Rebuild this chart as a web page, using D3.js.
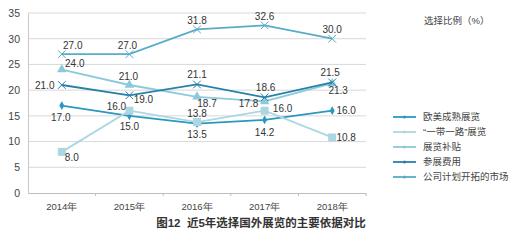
<!DOCTYPE html>
<html>
<head>
<meta charset="utf-8">
<script src="https://cdn.jsdelivr.net/npm/d3@7"></script>
<style>
  body { margin: 0; background: #fff; }
  svg { font-family: "Liberation Sans", "Noto Sans CJK SC", sans-serif; }
</style>
</head>
<body>
<div id="chart"></div>
<script>
// data
const years = ['2014年', '2015年', '2016年', '2017年', '2018年'];
const yTicks = [0, 5, 10, 15, 20, 25, 30, 35];
const seriesNames = ['欧美成熟展览', '“一带一路”展览', '展览补贴', '参展费用', '公司计划开拓的市场'];
const euroValues = [17.0, 15.0, 13.5, 14.2, 16.0];
const beltValues = [8.0, 16.0, 13.8, 16.0, 10.8];
const subsidyValues = [24.0, 21.0, 18.7, 17.8, 21.3];
const feeValues = [21.0, 19.0, 21.1, 18.6, 21.5];
const marketValues = [27.0, 27.0, 31.8, 32.6, 30.0];

// label offsets per point [dx, dy]
const series = [
  { name: seriesNames[0], values: euroValues, color: '#2b98bf', marker: 'diamond',
    offs: [[-1, 12], [0, 11], [0, 11], [0, 13], [14, 0]] },
  { name: seriesNames[1], values: beltValues, color: '#add6e3', marker: 'square',
    offs: [[10, 6], [-13, -4], [0, -9], [18, -2], [14, 0]] },
  { name: seriesNames[2], values: subsidyValues, color: '#8ccadb', marker: 'triangle',
    offs: [[13, -6], [-1, -9], [10, 7], [-16, 2], [6, 7]] },
  { name: seriesNames[3], values: feeValues, color: '#2780aa', marker: 'cross',
    offs: [[-17, 0], [14, 4], [0, -10], [1, -10], [-2, -10]] },
  { name: seriesNames[4], values: marketValues, color: '#58acc7', marker: 'cross',
    offs: [[11, -9], [-2, -9], [0, -9], [0, -9], [0, -9]] }
];

const width = 514, height = 240;
const svg = d3.select('#chart').append('svg')
  .attr('width', width).attr('height', height);

const x = d3.scaleBand().domain(years).range([28, 366]);
const y = d3.scaleLinear().domain([0, 35]).range([193, 13]);

// gridlines
svg.append('g').selectAll('line')
  .data(yTicks.filter(d => d > 0))
  .enter().append('line')
  .attr('x1', 28).attr('x2', 366)
  .attr('y1', d => y(d)).attr('y2', d => y(d))
  .attr('stroke', '#d9d9d9').attr('stroke-width', 1);

// y axis
const yAxis = svg.append('g')
  .attr('transform', 'translate(28,0)')
  .call(d3.axisLeft(y).tickValues(yTicks).tickSize(0).tickPadding(8));
yAxis.select('.domain').attr('stroke', '#c8c8c8');
yAxis.selectAll('text').attr('fill', '#444').style('font-size', '10.5px');

// x axis
const xAxis = svg.append('g')
  .attr('transform', 'translate(0,193)')
  .call(d3.axisBottom(x).tickSize(0).tickPadding(10));
xAxis.select('.domain').attr('stroke', '#bdbdbd');
xAxis.selectAll('text').attr('fill', '#444').style('font-size', '9.5px');
xAxis.selectAll('.bound')
  .data(years.slice(1).concat(['end']))
  .enter().append('line')
  .attr('x1', (d, i) => x(years[0]) + x.bandwidth() * (i + 1))
  .attr('x2', (d, i) => x(years[0]) + x.bandwidth() * (i + 1))
  .attr('y1', 0).attr('y2', 3)
  .attr('stroke', '#bdbdbd');

const cx = d => x(d) + x.bandwidth() / 2;

function drawMarker(g, type, color, px, py) {
  if (type === 'diamond') {
    g.append('path').attr('d', d3.symbol(d3.symbolDiamond, 22)())
      .attr('transform', `translate(${px},${py})`).attr('fill', color);
  } else if (type === 'square') {
    g.append('rect').attr('x', px - 4).attr('y', py - 4)
      .attr('width', 8).attr('height', 8).attr('fill', color);
  } else if (type === 'triangle') {
    g.append('path').attr('d', d3.symbol(d3.symbolTriangle, 40)())
      .attr('transform', `translate(${px},${py})`).attr('fill', color);
  } else {
    g.append('path').attr('d', d3.symbol(d3.symbolX, 40)())
      .attr('transform', `translate(${px},${py})`)
      .attr('fill', 'none').attr('stroke', color).attr('stroke-width', 1);
  }
}

const line = d3.line().x((d, i) => cx(years[i])).y(d => y(d));

series.forEach(s => {
  const g = svg.append('g');
  g.append('path').datum(s.values)
    .attr('d', line).attr('fill', 'none')
    .attr('stroke', s.color).attr('stroke-width', 1.8);
  s.values.forEach((v, i) => drawMarker(g, s.marker, s.color, cx(years[i]), y(v)));
});

// value labels on top
series.forEach(s => {
  svg.append('g').selectAll('text')
    .data(s.values)
    .enter().append('text')
    .attr('x', (d, i) => cx(years[i]) + s.offs[i][0])
    .attr('y', (d, i) => y(d) + s.offs[i][1])
    .attr('dy', '0.35em')
    .attr('text-anchor', 'middle')
    .attr('fill', '#333')
    .style('font-size', '10px')
    .text(d => d.toFixed(1));
});

// unit label
svg.append('text')
  .attr('x', 424).attr('y', 24)
  .attr('fill', '#444')
  .style('font-size', '9.5px')
  .text('选择比例（%）');

// legend
const legend = svg.append('g');
series.forEach((s, i) => {
  const ly = 117 + i * 15;
  legend.append('line')
    .attr('x1', 393).attr('x2', 416).attr('y1', ly).attr('y2', ly)
    .attr('stroke', s.color).attr('stroke-width', 1.8);
  legend.append('circle').attr('cx', 404.5).attr('cy', ly).attr('r', 1.5).attr('fill', s.color);
  legend.append('text')
    .attr('x', 423).attr('y', ly).attr('dy', '0.35em')
    .attr('fill', '#444')
    .style('font-size', '9.5px')
    .text(s.name);
});

// title
svg.append('text')
  .attr('x', 261).attr('y', 227)
  .attr('text-anchor', 'middle')
  .attr('fill', '#333')
  .style('font-size', '11.5px')
  .style('font-weight', 'bold')
  .style('white-space', 'pre')
  .text('图12  近5年选择国外展览的主要依据对比');
</script>
</body>
</html>
